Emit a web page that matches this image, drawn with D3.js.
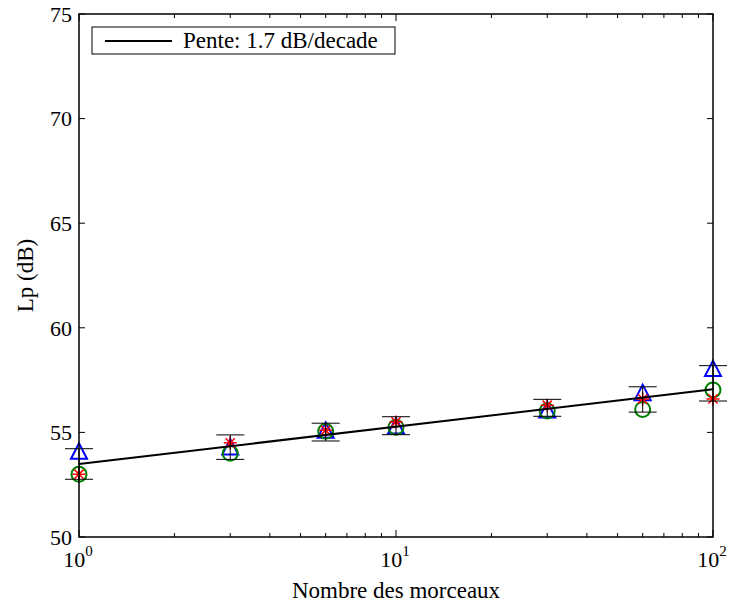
<!DOCTYPE html>
<html><head><meta charset="utf-8">
<script src="https://cdn.jsdelivr.net/npm/d3@7"></script>
<style>body{margin:0;background:#fff;} svg{display:block;}</style>
</head><body>
<script>
// ---- data ----
const xValues = [1, 3, 6, 10, 30, 60, 100];
const seriesCircle = [53.0, 54.0, 55.05, 55.25, 56.02, 56.1, 57.03];
const seriesStar = [53.0, 54.5, 55.1, 55.5, 56.3, 56.6, 56.6];
const seriesTriangle = [54.1, 54.3, 55.1, 55.3, 56.07, 56.9, 58.05];
const errLow = [52.76, 53.71, 54.59, 54.89, 55.77, 55.97, 56.5];
const errHigh = [54.22, 54.88, 55.44, 55.75, 56.58, 57.18, 58.19];
const fitX = [1, 100];
const fitY = [53.49, 57.06];
const yTicks = [50, 55, 60, 65, 70, 75];
const xMajorTicks = [1, 10, 100];
const xMajorExp = ["0", "1", "2"];
const legendLabel = "Pente: 1.7 dB/decade";
const xLabel = "Nombre des morceaux";
const yLabel = "Lp (dB)";

const W = 731, H = 605;
const m = {left: 79, right: 713, top: 14, bottom: 537};
const font = "'Liberation Serif', 'Times New Roman', serif";

const svg = d3.select("body").append("svg").attr("width", W).attr("height", H);
const x = d3.scaleLog().domain([1, 100]).range([m.left, m.right]);
const y = d3.scaleLinear().domain([50, 75]).range([m.bottom, m.top]);

// minor ticks
const minor = [];
for (let d = 1; d < 100; d *= 10) for (let k = 2; k <= 9; k++) minor.push(d * k);

const g = svg.append("g");
// ticks
const tk = g.append("g").attr("stroke", "#000").attr("stroke-width", 1);
xMajorTicks.forEach(v => {
  tk.append("line").attr("x1", x(v)).attr("x2", x(v)).attr("y1", m.bottom).attr("y2", m.bottom - 7);
  tk.append("line").attr("x1", x(v)).attr("x2", x(v)).attr("y1", m.top).attr("y2", m.top + 7);
});
minor.forEach(v => {
  tk.append("line").attr("x1", x(v)).attr("x2", x(v)).attr("y1", m.bottom).attr("y2", m.bottom - 4);
  tk.append("line").attr("x1", x(v)).attr("x2", x(v)).attr("y1", m.top).attr("y2", m.top + 4);
});
yTicks.forEach(v => {
  tk.append("line").attr("x1", m.left).attr("x2", m.left + 6).attr("y1", y(v)).attr("y2", y(v));
  tk.append("line").attr("x1", m.right).attr("x2", m.right - 6).attr("y1", y(v)).attr("y2", y(v));
});

// tick labels
yTicks.forEach(v => {
  g.append("text").attr("x", m.left - 7).attr("y", y(v)).attr("dy", "0.35em")
    .attr("text-anchor", "end").attr("font-family", font).attr("font-size", 22).text(v);
});
xMajorTicks.forEach((v, i) => {
  const t = g.append("text").attr("x", x(v) - 1).attr("y", m.bottom + 30)
    .attr("text-anchor", "middle").attr("font-family", font).attr("font-size", 22);
  t.append("tspan").text("10");
  t.append("tspan").attr("dy", -11).attr("font-size", 15).text(xMajorExp[i]);
});

// axis labels
g.append("text").attr("x", (m.left + m.right) / 2).attr("y", 598).attr("text-anchor", "middle")
  .attr("font-family", font).attr("font-size", 23).text(xLabel);
g.append("text").attr("transform", `translate(33,${(m.top + m.bottom) / 2}) rotate(-90)`)
  .attr("text-anchor", "middle").attr("font-family", font).attr("font-size", 23).text(yLabel);

// markers: triangles
const tri = "M0,-8L8,7.5L-8,7.5Z";
g.append("g").selectAll("path").data(xValues).join("path")
  .attr("d", tri).attr("transform", (d, i) => `translate(${x(d)},${y(seriesTriangle[i])})`)
  .attr("fill", "none").attr("stroke", "#0000ff").attr("stroke-width", 2);
// circles
g.append("g").selectAll("circle").data(xValues).join("circle")
  .attr("cx", d => x(d)).attr("cy", (d, i) => y(seriesCircle[i])).attr("r", 7.5)
  .attr("fill", "none").attr("stroke", "#008000").attr("stroke-width", 2);
// stars
const r = 6.5, r2 = r * 0.707;
const star = `M0,${-r}L0,${r}M${-r},0L${r},0M${-r2},${-r2}L${r2},${r2}M${-r2},${r2}L${r2},${-r2}`;
g.append("g").selectAll("path").data(xValues).join("path")
  .attr("d", star).attr("transform", (d, i) => `translate(${x(d)},${y(seriesStar[i])})`)
  .attr("fill", "none").attr("stroke", "#ff0000").attr("stroke-width", 1.5);

// error bars
const eb = g.append("g").attr("stroke", "#000").attr("stroke-width", 1);
xValues.forEach((v, i) => {
  const cx = x(v);
  eb.append("line").attr("x1", cx).attr("x2", cx).attr("y1", y(errLow[i])).attr("y2", y(errHigh[i]));
  eb.append("line").attr("x1", cx - 14).attr("x2", cx + 14).attr("y1", y(errLow[i])).attr("y2", y(errLow[i]));
  eb.append("line").attr("x1", cx - 14).attr("x2", cx + 14).attr("y1", y(errHigh[i])).attr("y2", y(errHigh[i]));
});

// fit line
g.append("path").datum(fitX.map((v, i) => [v, fitY[i]]))
  .attr("d", d3.line().x(d => x(d[0])).y(d => y(d[1])))
  .attr("fill", "none").attr("stroke", "#000").attr("stroke-width", 2);

// frame
g.append("rect").attr("x", m.left).attr("y", m.top).attr("width", m.right - m.left).attr("height", m.bottom - m.top)
  .attr("fill", "none").attr("stroke", "#000").attr("stroke-width", 1.5);

// legend
const lg = g.append("g");
lg.append("rect").attr("x", 92).attr("y", 27).attr("width", 303).attr("height", 27)
  .attr("fill", "#fff").attr("stroke", "#000").attr("stroke-width", 1);
lg.append("line").attr("x1", 105).attr("x2", 172).attr("y1", 41).attr("y2", 41)
  .attr("stroke", "#000").attr("stroke-width", 2);
lg.append("text").attr("x", 183).attr("y", 48).attr("font-family", font).attr("font-size", 23).text(legendLabel);
</script>
</body></html>
